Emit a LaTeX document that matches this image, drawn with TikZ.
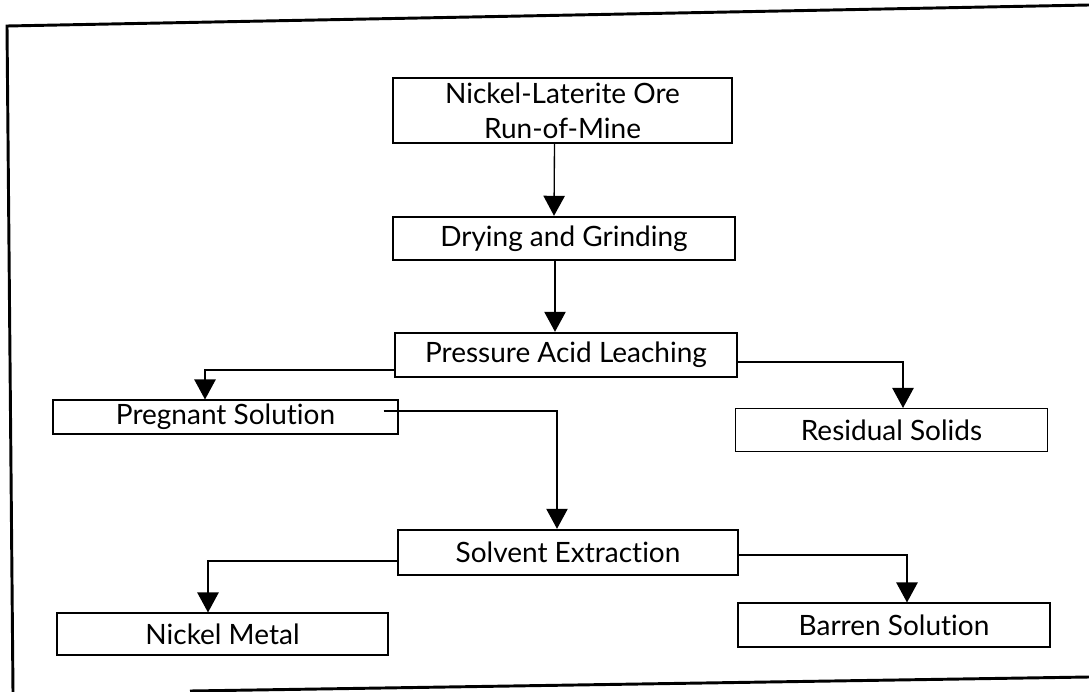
\documentclass[tikz,border=0pt]{standalone}
\usepackage{fontspec}
\setmainfont[RawFeature={-liga}]{Lato}
\usetikzlibrary{arrows.meta,calc}
\begin{document}
\begin{tikzpicture}[x=0.75pt,y=-0.75pt,
  box/.style={draw,line width=0.8pt,inner sep=0pt,align=center,font=\fontsize{21}{26}\selectfont},
  thickbox/.style={box,line width=1.8pt},
  arr/.style={line width=1pt,-{Triangle[length=15pt,width=16pt]}},
  frameline/.style={line width=2.2pt}]
\useasboundingbox (0,0) rectangle (1089,692);
\node[box,minimum width=339*0.75pt,minimum height=65*0.75pt] (ore) at (562.5,110.5) {Nickel-Laterite Ore\\Run-of-Mine};
\node[thickbox,minimum width=342*0.75pt,minimum height=43*0.75pt] (dry) at (564,238.5) {Drying and Grinding};
\node[thickbox,minimum width=342*0.75pt,minimum height=44*0.75pt] (pal) at (566,355) {Pressure Acid Leaching};
\node[box,minimum width=345*0.75pt,minimum height=34*0.75pt] (preg) at (225.5,417) {Pregnant Solution};
\node[box,minimum width=312*0.75pt,minimum height=43*0.75pt] (res) at (891.5,430) {Residual Solids};
\node[thickbox,minimum width=340*0.75pt,minimum height=45*0.75pt] (sx) at (568,552.5) {Solvent Extraction};
\node[box,minimum width=331*0.75pt,minimum height=42*0.75pt] (ni) at (222.5,634) {Nickel Metal};
\node[box,minimum width=312*0.75pt,minimum height=44*0.75pt] (bar) at (894,625) {Barren Solution};
\draw[arr] ($(ore.south)+(-8,0)$) -- ($(dry.north)+(-10,0)$);
\draw[arr] ($(dry.south)+(-9,0)$) -- ($(pal.north)+(-11,0)$);
\draw[arr] ($(pal.west)+(0,15)$) -| ($(preg.north)+(-20.5,0)$);
\draw[arr] ($(pal.east)+(0,7)$) -| ($(res.north)+(11.5,0)$);
\draw[arr] ($(preg.east)+(-15,-6)$) -| ($(sx.north)+(-11,0)$);
\draw[arr] ($(sx.west)+(0,8.5)$) -| ($(ni.north)+(-14.5,0)$);
\draw[arr] ($(sx.east)+(0,2.5)$) -| ($(bar.north)+(13,0)$);
\coordinate (ftl) at (7,26);
\coordinate (ftr) at (1089,5);
\coordinate (fbl) at (13,692);
\coordinate (fbs) at (190,691);
\coordinate (fbr) at (1089,677);
\draw[frameline] (ftr) -- (ftl) -- (fbl);
\draw[frameline] (fbs) -- (fbr);
\end{tikzpicture}
\end{document}
